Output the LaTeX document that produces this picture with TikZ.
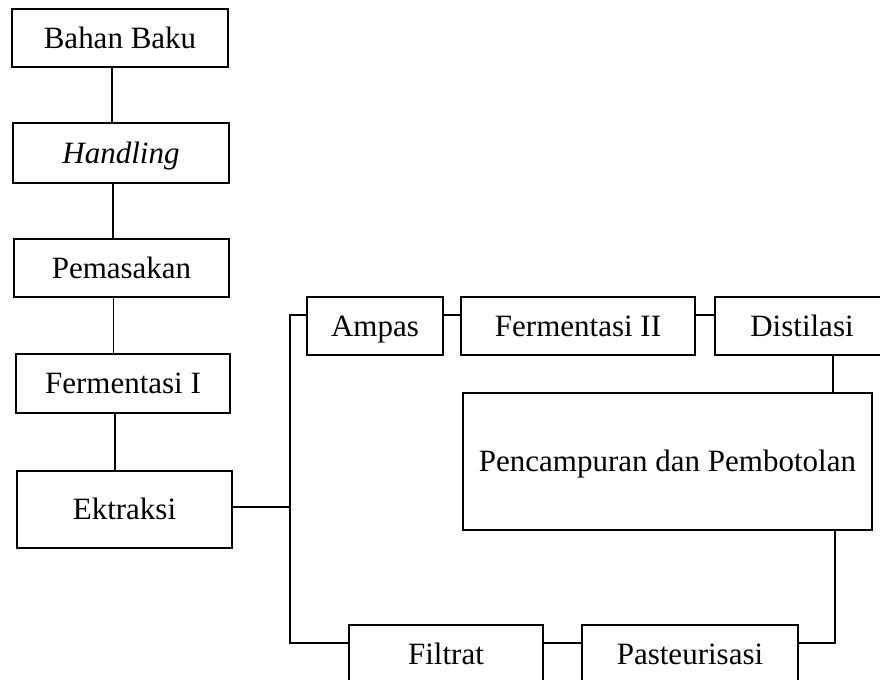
\documentclass[tikz,border=0pt]{standalone}
\usepackage{fontspec}
\setmainfont{Liberation Serif}
\tikzset{
  procbox/.style={draw, line width=0.9pt, inner sep=0pt, text height=10.3pt, text depth=0pt,
    font=\fontsize{15.5}{18.5}\selectfont},
  edgeflow/.style={black, line width=0.9pt}
}

\begin{document}
\begin{tikzpicture}[x=0.5pt, y=-0.5pt]
\useasboundingbox (0,0) rectangle (880,680);
% main line
\node[procbox, minimum width=108pt, minimum height=29pt] (bb) at (120,38) {Bahan Baku};
\node[procbox, minimum width=108pt, minimum height=30pt] (hd) at (121,153) {\itshape Handling};
\node[procbox, minimum width=107.5pt, minimum height=29pt] (pm) at (121.5,268) {Pemasakan};
\node[procbox, minimum width=107pt, minimum height=29.5pt] (f1) at (123,383.5) {Fermentasi I};
\node[procbox, minimum width=107.5pt, minimum height=38.5pt] (ek) at (124.5,509.5) {Ektraksi};
% upper branch
\node[procbox, minimum width=68pt, minimum height=29pt] (am) at (375,326) {Ampas};
\node[procbox, minimum width=117pt, minimum height=29pt] (f2) at (578,326) {Fermentasi II};
\node[procbox, minimum width=87pt, minimum height=29pt] (ds) at (802,326) {Distilasi};
\node[procbox, minimum width=204.5pt, minimum height=68.5pt] (pc) at (667.5,461.5) {Pencampuran dan Pembotolan};
% lower branch
\node[procbox, minimum width=97pt, minimum height=29.5pt] (fl) at (446,654.5) {Filtrat};
\node[procbox, minimum width=108pt, minimum height=29.5pt] (ps) at (690,654.5) {Pasteurisasi};
\coordinate (split) at (290,507);

\foreach \u/\v in {bb/hd, hd/pm, pm/f1, f1/ek}
  \draw[edgeflow] ([xshift=-4pt]\u.south) -- ([xshift=-4pt]\u.south |- \v.north);
\draw[edgeflow] (ek.east |- split) -- (split);
\draw[edgeflow] ([yshift=5.5pt]am.west) -| (split) |- ([yshift=5.75pt]fl.west);
\draw[edgeflow] ([yshift=5.5pt]am.east) -- ([yshift=5.5pt]f2.west);
\draw[edgeflow] ([yshift=5.5pt]f2.east) -- ([yshift=5.5pt]ds.west);
\draw[edgeflow] ([xshift=15.5pt]ds.south) -- ([xshift=15.5pt]ds.south |- pc.north);
\draw[edgeflow] ([xshift=83.75pt]pc.south) |- ([yshift=5.75pt]ps.east);
\draw[edgeflow] ([yshift=5.75pt]fl.east) -- ([yshift=5.75pt]ps.west);
\end{tikzpicture}
\end{document}
